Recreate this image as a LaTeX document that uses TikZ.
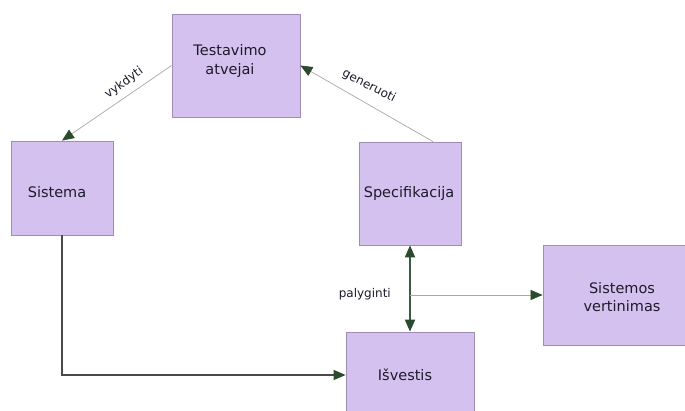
\documentclass[tikz,border=0pt]{standalone}
\usepackage{fontspec}
\setmainfont{DejaVu Sans}
\usetikzlibrary{arrows.meta}
\definecolor{boxfill}{HTML}{D4C1EF}
\definecolor{boxedge}{HTML}{9E8DB5}
\definecolor{tipgreen}{HTML}{2C4A2E}
\definecolor{thinline}{HTML}{A8A8A8}
\definecolor{darkline}{HTML}{4A4A4A}
\definecolor{pairline}{HTML}{3B5A3F}
\definecolor{txt}{HTML}{1E1A2A}
\begin{document}
\begin{tikzpicture}[x=1pt,y=-1pt,
  block/.style={draw=boxedge, fill=boxfill, line width=0.8pt, inner sep=0pt},
  boxtext/.style={text=txt, font=\fontsize{14.5}{18.5}\selectfont, align=center, inner sep=0pt},
  lbl/.style={text=txt, font=\fontsize{12}{14}\selectfont, inner sep=0pt},
  tipend/.style={-{Triangle[length=12pt,width=10pt,color=tipgreen]}},
  tipboth/.style={{Triangle[length=12pt,width=10pt,color=tipgreen]}-{Triangle[length=12pt,width=10pt,color=tipgreen]}},
  faint/.style={draw=thinline, line width=0.7pt},
  solidline/.style={draw=darkline, line width=1.1pt},
  pairing/.style={draw=pairline, line width=1.8pt}]
\useasboundingbox (0,0) rectangle (685,411);
\clip (0,0) rectangle (685,411);
\fill[white] (0,0) rectangle (685,411);

% boxes, each with its caption as a centred label
\node[block, minimum width=128pt, minimum height=103pt,
  label={[boxtext, xshift=-6pt, yshift=4.5pt]center:{Testavimo\\atvejai}}] (test) at (236,65.5) {};
\node[block, minimum width=102pt, minimum height=94pt,
  label={[boxtext, xshift=-5pt, yshift=-4pt]center:Sistema}] (sis) at (62,188) {};
\node[block, minimum width=102pt, minimum height=103pt,
  label={[boxtext, xshift=-1pt]center:Specifikacija}] (spec) at (410,193.5) {};
\node[block, minimum width=158pt, minimum height=100pt,
  label={[boxtext, yshift=-2pt]center:{Sistemos\\vertinimas}}] (sv) at (622,295) {};
\node[block, minimum width=128pt, minimum height=86pt,
  label={[boxtext, xshift=-5pt]center:Išvestis}] (isv) at (410,375) {};

% connectors
\draw[faint, tipend] (test.west) -- (sis.north);
\draw[faint, tipend] ([xshift=23pt]spec.north) -- (test.east);
\draw[pairing, tipboth] (spec.south) -- (isv.north);
\coordinate (cmp) at (spec.south |- sv.west);
\draw[faint, tipend] (cmp) -- (sv.west);
\draw[solidline, tipend] (sis.south) |- (isv.west);

% connector labels
\node[lbl, rotate=36] (lv) at (124,83) {vykdyti};
\node[lbl, rotate=-27] (lg) at (369,86) {generuoti};
\node[lbl, anchor=east] (lp) at (391,294) {palyginti};
\end{tikzpicture}
\end{document}
